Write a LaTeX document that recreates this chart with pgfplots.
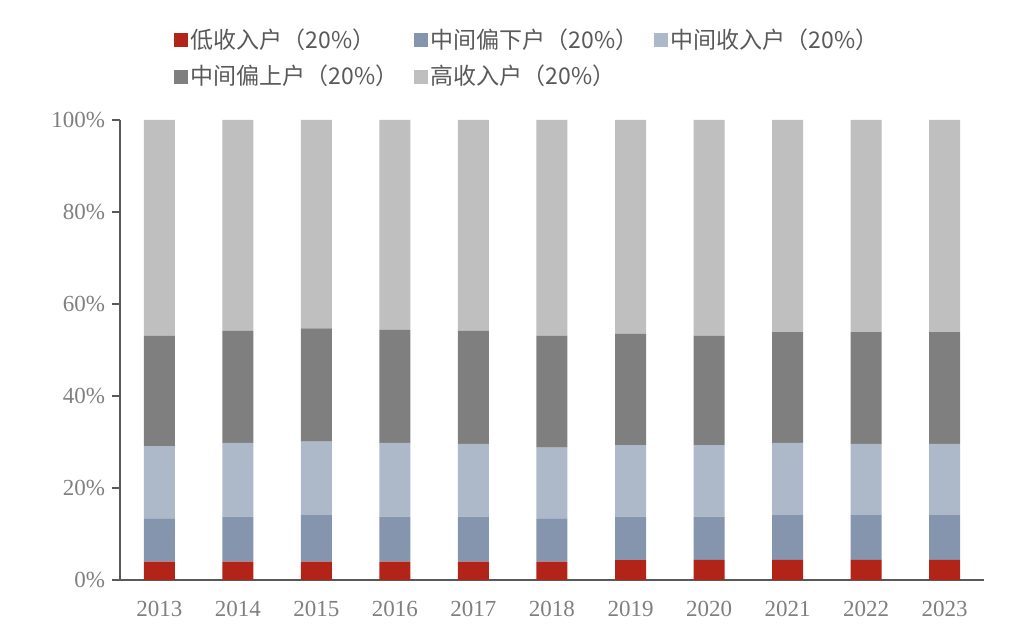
\documentclass[border=0pt]{standalone}
\usepackage{pgfplots}
\usepackage{pgfplotstable}
\pgfplotsset{compat=1.18}
\usepackage{fontspec}
\setmainfont{Liberation Serif}
\newfontfamily\cjk{Noto Sans CJK SC}
\definecolor{cLow}{HTML}{B22418}
\definecolor{cML}{HTML}{8595AE}
\definecolor{cMid}{HTML}{ADB8C8}
\definecolor{cUM}{HTML}{7F7F7F}
\definecolor{cHigh}{HTML}{BFBFBF}
\definecolor{axgray}{HTML}{595959}
\definecolor{txtgray}{HTML}{7F7F7F}
\pgfplotstableread{
x low ml mid um high
0 4.0 9.4 15.7 24.0 46.9
1 4.0 9.8 16.0 24.4 45.8
2 4.0 10.1 16.0 24.6 45.3
3 4.0 9.8 16.0 24.6 45.6
4 4.0 9.8 15.8 24.6 45.8
5 4.0 9.4 15.4 24.3 46.9
6 4.3 9.5 15.5 24.2 46.5
7 4.35 9.45 15.5 23.8 46.9
8 4.35 9.75 15.7 24.1 46.1
9 4.35 9.75 15.5 24.3 46.1
10 4.35 9.75 15.5 24.3 46.1
}\data
\begin{document}
\begin{tikzpicture}
\useasboundingbox (-60pt,-27.5pt) rectangle (452pt,290pt);
\begin{axis}[
  scale only axis, width=432pt, height=230pt,
  ybar stacked, bar width=15.5pt,
  xmin=-0.5, xmax=10.5, ymin=0, ymax=100,
  axis x line*=bottom, axis y line*=left,
  axis line style={axgray, line width=1pt},
  every axis plot/.append style={draw=none},
  xtick={0,...,10},
  xticklabels={2013,2014,2015,2016,2017,2018,2019,2020,2021,2022,2023},
  x tick style={draw=none},
  extra x ticks={-0.5,0.5,1.5,2.5,3.5,4.5,5.5,6.5,7.5,8.5,9.5,10.5},
  extra x tick labels={},
  extra x tick style={tick style={axgray, line width=1pt, draw=axgray}, major tick length=4pt, tick align=outside},
  ytick={0,20,40,60,80,100},
  yticklabel={\pgfmathprintnumber{\tick}\%},
  y tick style={axgray, line width=1pt},
  tick align=outside, major tick length=4pt,
  /pgf/number format/assume math mode=true,
  ticklabel style={font=\fontsize{11.5}{13}\selectfont, text=txtgray},
  xticklabel style={yshift=-3pt},
  legend columns=3,
  legend style={draw=none, fill=none, at={(axis description cs:0.055,1.215)}, anchor=north west,
    font=\cjk\fontsize{11.5}{13}\selectfont, text=axgray,
    nodes={text width=110pt, align=left, inner sep=1.5pt},
    /tikz/every even column/.append style={column sep=0pt},
    row sep=4pt},
  legend image code/.code={\path[#1, draw=none] (0pt,-3.5pt) rectangle (7pt,3.5pt);},
]
\addplot[fill=cLow] table[x=x,y=low]{\data};
\addplot[fill=cML] table[x=x,y=ml]{\data};
\addplot[fill=cMid] table[x=x,y=mid]{\data};
\addplot[fill=cUM] table[x=x,y=um]{\data};
\addplot[fill=cHigh] table[x=x,y=high]{\data};
\legend{低收入户（20\%）,中间偏下户（20\%）,中间收入户（20\%）,中间偏上户（20\%）,高收入户（20\%）}
\end{axis}
\end{tikzpicture}
\end{document}
